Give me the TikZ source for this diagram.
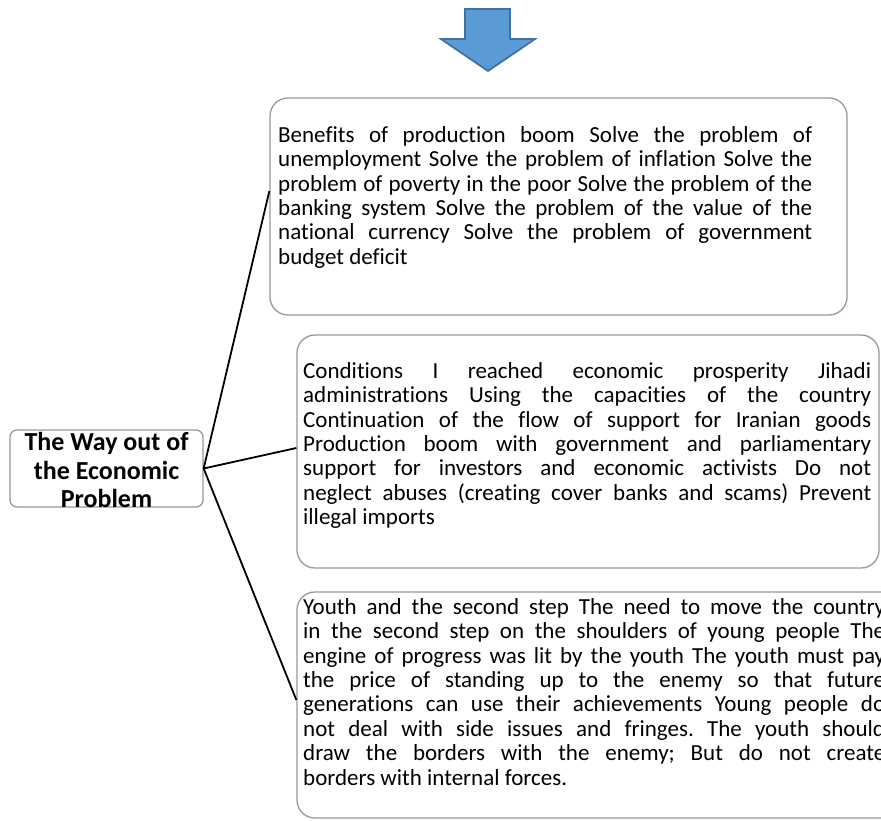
\documentclass[tikz,border=0pt]{standalone}
\usepackage{fontspec}
\setmainfont{Carlito}[Ligatures=NoCommon]
\frenchspacing
\begin{document}
\begin{tikzpicture}[x=1pt,y=-1pt,
  boxstyle/.style={draw=black!40,line width=1.3pt,rounded corners=18pt,inner sep=0pt},
  rootstyle/.style={draw=black!40,line width=1.3pt,rounded corners=7pt,inner sep=0pt},
  bodytext/.style={inner sep=0pt,anchor=north west,align=left,font=\fontsize{23}{24.4}\selectfont},
  link/.style={line width=1.8pt,black}]
\useasboundingbox (0,0) rectangle (881,821);
\clip (0,0) rectangle (881,821);
\fill[white] (0,0) rectangle (881,821);
\definecolor{arrfill}{HTML}{5B9BD5}
\definecolor{arrdraw}{HTML}{41719C}
% top arrow
\draw[fill=arrfill,draw=arrdraw,line width=1.8pt,line join=miter]
  (465,9) -- (510,9) -- (510,39) -- (535,39) -- (488,71) -- (441,39) -- (465,39) -- cycle;
% boxes
\node[boxstyle,minimum width=577pt,minimum height=217pt] (b1) at (558.5,206.5) {};
\node[boxstyle,minimum width=582pt,minimum height=233pt] (b2) at (588,451.5) {};
\node[boxstyle,minimum width=610pt,minimum height=226pt] (b3) at (602,705) {};
\node[rootstyle,minimum width=193pt,minimum height=77pt] (root) at (106.5,468.5) {};
% texts
\node[bodytext] (t1) at (278,125) {%
\makebox[534pt][s]{\strut Benefits of production boom Solve the problem of}\\
\makebox[534pt][s]{unemployment Solve the problem of inflation Solve the}\\
\makebox[534pt][s]{problem of poverty in the poor Solve the problem of the}\\
\makebox[534pt][s]{banking system Solve the problem of the value of the}\\
\makebox[534pt][s]{national currency Solve the problem of government}\\
budget deficit};
\node[bodytext] (t2) at (303,361) {%
\makebox[568pt][s]{\strut Conditions I reached economic prosperity Jihadi}\\
\makebox[568pt][s]{administrations Using the capacities of the country}\\
\makebox[568pt][s]{Continuation of the flow of support for Iranian goods}\\
\makebox[568pt][s]{Production boom with government and parliamentary}\\
\makebox[568pt][s]{support for investors and economic activists Do not}\\
\makebox[568pt][s]{neglect abuses (creating cover banks and scams) Prevent}\\
illegal imports};
\node[bodytext] (t3) at (303,597) {%
\makebox[582pt][s]{\strut Youth and the second step The need to move the country}\\
\makebox[582pt][s]{in the second step on the shoulders of young people The}\\
\makebox[582pt][s]{engine of progress was lit by the youth The youth must pay}\\
\makebox[582pt][s]{the price of standing up to the enemy so that future}\\
\makebox[582pt][s]{generations can use their achievements Young people do}\\
\makebox[582pt][s]{not deal with side issues and fringes. The youth should}\\
\makebox[582pt][s]{draw the borders with the enemy; But do not create}\\
borders with internal forces.};
\node[inner sep=0pt,align=center,font=\fontsize{26}{28.5}\selectfont\bfseries] (rt) at (106.5,470) {The Way out of\\the Economic\\Problem};
% connectors
\coordinate (hub) at (root.east);
\coordinate (e1) at ([yshift=15.5pt]b1.west);
\coordinate (e2) at ([yshift=3.5pt]b2.west);
\coordinate (e3) at ([yshift=5pt]b3.west);
\draw[link] (hub) -- (e1);
\draw[link] (hub) -- (e2);
\draw[link] (hub) -- (e3);
\end{tikzpicture}
\end{document}
